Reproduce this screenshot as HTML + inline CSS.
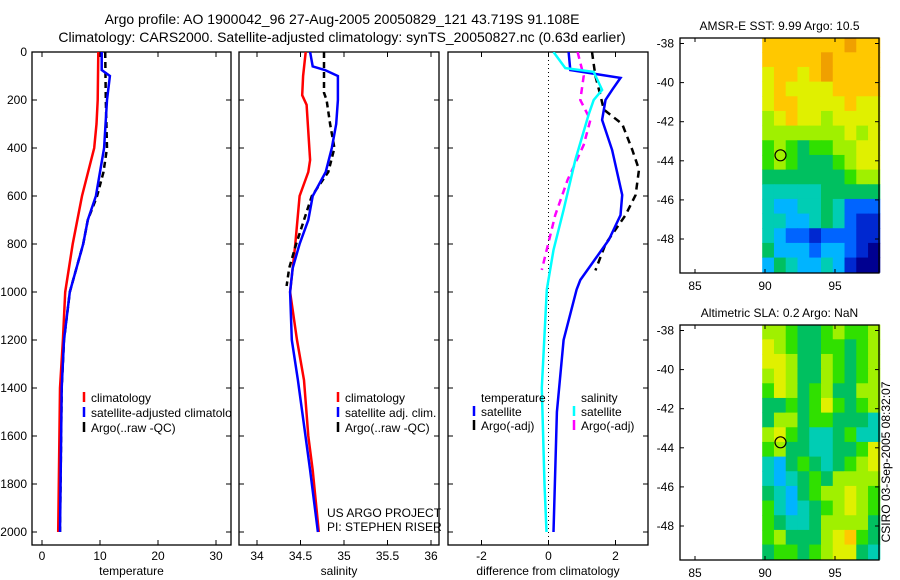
<!DOCTYPE html>
<html><head><meta charset="utf-8">
<style>
body{margin:0;background:#fff;}
svg{display:block;font-family:"Liberation Sans",sans-serif;}
</style></head>
<body>
<svg id="fig" width="900" height="580" viewBox="0 0 900 580" xmlns="http://www.w3.org/2000/svg">
<text x="342" y="24" font-size="14" text-anchor="middle">Argo profile: AO 1900042_96 27-Aug-2005 20050829_121 43.719S 91.108E</text>
<text x="342" y="42" font-size="14" text-anchor="middle">Climatology: CARS2000. Satellite-adjusted climatology: synTS_20050827.nc (0.63d earlier)</text>
<g id="plots"></g>
<text x="327" y="517" font-size="12">US ARGO PROJECT</text>
<text x="327" y="531" font-size="12">PI: STEPHEN RISER</text>
<text x="894" y="466" font-size="12" text-anchor="middle" transform="rotate(-90 890 466)">CSIRO 03-Sep-2005 08:32:07</text>
</svg>
<script>
// ---------- profile data ----------
const tClimDepth = [0,200,300,400,600,800,1000,1200,1400,2000];
const tClimVal   = [9.7,9.6,9.4,9.0,6.9,5.3,4.0,3.6,3.1,2.8];
const tSatDepth  = [0,75,100,200,400,500,600,700,800,1000,1200,1400,2000];
const tSatVal    = [10.3,10.3,11.7,11.2,10.7,10.0,9.3,7.9,7.1,4.8,3.8,3.4,3.1];
const tArgoDepth = [0,200,400,500,600,700,800,1000,1200,1400,2000];
const tArgoVal   = [10.9,11.0,11.2,10.6,9.5,7.9,7.1,4.8,3.8,3.4,3.1];

const sClimDepth = [0,100,180,220,450,500,600,800,1000,1200,1367,1600,1742,2000];
const sClimVal   = [34.56,34.53,34.52,34.57,34.61,34.59,34.49,34.44,34.38,34.46,34.54,34.59,34.64,34.71];
const sSatDepth  = [0,60,75,100,200,300,400,500,600,700,800,900,1000,1200,1367,1742,2000];
const sSatVal    = [34.61,34.64,34.78,34.93,34.93,34.91,34.86,34.79,34.64,34.59,34.49,34.41,34.38,34.40,34.47,34.61,34.70];
const sArgoDepth = [0,170,200,300,400,500,600,700,800,900,975];
const sArgoVal   = [34.77,34.77,34.80,34.84,34.89,34.82,34.63,34.54,34.45,34.37,34.34];

const dTSatDepth  = [0,75,108,158,200,283,408,596,680,783,950,990,1200,1500,2000];
const dTSatVal    = [0.6,0.65,2.15,1.9,1.7,1.6,1.9,2.2,2.15,1.8,0.95,0.84,0.45,0.25,0.15];
const dTArgoDepth = [0,100,180,240,300,408,490,596,680,800,910];
const dTArgoVal   = [1.3,1.4,1.55,1.65,2.2,2.5,2.7,2.6,2.3,1.7,1.4];
const dSSatDepth  = [0,67,83,158,200,260,450,658,825,990,1400,1800,2000];
const dSSatVal    = [0.15,0.5,1.35,1.6,1.35,1.2,0.8,0.45,0.15,-0.05,-0.2,-0.12,-0.06];
const dSArgoDepth = [0,100,200,283,387,533,680,908];
const dSArgoVal   = [0.87,1.05,0.95,1.25,1.05,0.57,0.2,-0.2];

const depthTicks = [0,200,400,600,800,1000,1200,1400,1600,1800,2000];
const tTicks = [0,10,20,30];
const sTicks = [34,34.5,35,35.5,36];
const dTicks = [-2,0,2];

// ---------- map data (colour levels 0..10) ----------
const sstGrid = [
[9,9,9,9,9,9,9,10,9,9],
[9,9,9,9,9,10,9,9,9,9],
[8,9,9,8,9,10,9,9,9,9],
[8,9,8,8,8,8,9,9,9,9],
[8,9,9,8,8,8,8,9,8,8],
[7,8,9,8,8,7,8,8,8,8],
[7,7,7,7,7,7,7,8,7,8],
[6,7,6,5,6,6,7,7,8,8],
[6,7,6,5,5,5,6,7,8,8],
[5,5,5,5,5,5,5,6,7,7],
[4,4,4,4,4,5,5,5,5,5],
[4,3,3,4,4,5,4,2,2,2],
[4,4,3,3,4,5,4,2,1,1],
[4,3,2,2,1,2,2,2,1,1],
[5,3,3,3,2,3,3,2,1,0],
[3,5,4,3,3,4,3,1,0,0]];
const slaGrid = [
[7,7,6,5,5,6,7,6,6,7],
[8,7,6,5,5,6,6,5,6,7],
[8,8,7,5,5,7,6,5,6,7],
[7,8,7,5,5,7,6,5,6,7],
[6,8,7,5,6,7,5,5,7,7],
[5,5,6,5,6,8,6,5,6,7],
[5,7,7,5,6,6,5,5,5,4],
[7,8,6,5,4,4,5,6,4,4],
[6,7,5,5,4,4,5,5,6,8],
[4,3,5,6,5,4,5,6,7,8],
[4,3,4,5,6,5,7,7,7,7],
[5,4,3,5,6,7,7,8,7,6],
[6,4,3,4,5,6,7,8,7,6],
[6,5,4,4,5,7,7,7,7,5],
[6,7,5,5,5,7,8,9,6,5],
[5,6,6,5,6,7,8,8,5,4]];
const palette = ['#000090','#0028d0','#0064ff','#00b4ff','#00cdb4','#00c060','#30e000','#a0f000','#e0f000','#ffc800','#f0a000'];
const latTicks = [-38,-40,-42,-44,-46,-48];
const lonTicks = [85,90,95];
const argoLon = 91.108, argoLat = -43.719;

// ---------- drawing ----------
const NS='http://www.w3.org/2000/svg';
const root=document.getElementById('plots');
function mk(tag,attrs,parent){const e=document.createElementNS(NS,tag);for(const k in attrs)e.setAttribute(k,attrs[k]);(parent||root).appendChild(e);return e;}
const Y0=52, PY=0.24, PBOT=545, PTOP=52;
const yD=d=>Y0+d*PY;

const panels=[
 {name:'temperature',x0:32,x1:231,v0:0,p0:42,scale:5.8,ticks:tTicks,label:'temperature',showY:true},
 {name:'salinity',x0:239,x1:439,v0:34,p0:257,scale:87,ticks:sTicks,label:'salinity'},
 {name:'difference',x0:448,x1:648,v0:0,p0:548.5,scale:33.5,ticks:dTicks,label:'difference from climatology'}];

function line(g,p,depths,vals,color,w,dash,name){
  const pts=depths.map((d,i)=>(p.p0+(vals[i]-p.v0)*p.scale).toFixed(1)+','+yD(d).toFixed(1)).join(' ');
  const pl=mk('polyline',{points:pts,fill:'none',stroke:color,'stroke-width':w},g);
  if(dash)pl.setAttribute('stroke-dasharray',dash);
  
  
}

panels.forEach((p,pi)=>{
  const g=mk('g',{});
  
  
  const clipId='clip'+pi;
  const cp=mk('clipPath',{id:clipId},g);mk('rect',{x:p.x0,y:PTOP,width:p.x1-p.x0,height:PBOT-PTOP},cp);
  const frame=mk('rect',{x:p.x0,y:PTOP,width:p.x1-p.x0,height:PBOT-PTOP,fill:'none',stroke:'#000','stroke-width':1.3},g);
  
  
  depthTicks.forEach(d=>{
    const y=yD(d);
    mk('line',{x1:p.x0,x2:p.x0+5,y1:y,y2:y,stroke:'#000'},g);
    mk('line',{x1:p.x1,x2:p.x1-5,y1:y,y2:y,stroke:'#000'},g);
    if(p.showY){const t=mk('text',{x:27,y:y+4,'font-size':12,'text-anchor':'end'},g);t.textContent=d;
      
      }
  });
  p.ticks.forEach(v=>{
    const x=p.p0+(v-p.v0)*p.scale;
    mk('line',{x1:x,x2:x,y1:PBOT,y2:PBOT-5,stroke:'#000'},g);
    mk('line',{x1:x,x2:x,y1:PTOP,y2:PTOP+5,stroke:'#000'},g);
    const t=mk('text',{x:x,y:560,'font-size':12,'text-anchor':'middle'},g);t.textContent=v;
    
    
  });
  const xl=mk('text',{x:(p.x0+p.x1)/2,y:575,'font-size':12,'text-anchor':'middle'},g);xl.textContent=p.label;
  
  
  const lg=mk('g',{'clip-path':'url(#'+clipId+')'},g);
  if(pi===0){
    line(lg,p,tArgoDepth,tArgoVal,'#000',2.5,'6,4','temperature-argo-line');
    line(lg,p,tClimDepth,tClimVal,'#f00',2.5,null,'temperature-climatology-line');
    line(lg,p,tSatDepth,tSatVal,'#00f',2.5,null,'temperature-satellite-line');
  } else if(pi===1){
    line(lg,p,sClimDepth,sClimVal,'#f00',2.5,null,'salinity-climatology-line');
    line(lg,p,sArgoDepth,sArgoVal,'#000',2.5,'6,4','salinity-argo-line');
    line(lg,p,sSatDepth,sSatVal,'#00f',2.5,null,'salinity-satellite-line');
  } else {
    const zl=mk('line',{x1:p.p0,x2:p.p0,y1:PTOP,y2:PBOT,stroke:'#000','stroke-dasharray':'1,3'},lg);
    
    
    line(lg,p,dTArgoDepth,dTArgoVal,'#000',2.5,'7,5','temperature-argo-diff-line');
    line(lg,p,dSArgoDepth,dSArgoVal,'#f0f',2.5,'7,5','salinity-argo-diff-line');
    line(lg,p,dTSatDepth,dTSatVal,'#00f',2.5,null,'temperature-satellite-diff-line');
    line(lg,p,dSSatDepth,dSSatVal,'#0ff',2.5,null,'salinity-satellite-diff-line');
  }
  // legend
  const leg=mk('g',{'clip-path':'url(#'+clipId+')'},g);
  
  
  function entry(x,y,color,txt){
    if(color){mk('line',{x1:x,x2:x,y1:y-10,y2:y,stroke:color,'stroke-width':2.5},leg);}
    const t=mk('text',{x:x+7,y:y,'font-size':12},leg);t.textContent=txt;
    
    
  }
  if(pi===0){entry(84,402,'#f00','climatology');entry(84,417,'#00f','satellite-adjusted climatology');entry(84,432,'#000','Argo(..raw -QC)');}
  if(pi===1){entry(338,402,'#f00','climatology');entry(338,417,'#00f','satellite adj. clim.');entry(338,432,'#000','Argo(..raw -QC)');}
  if(pi===2){entry(474,402,null,'temperature');entry(574,402,null,'salinity');
    entry(474,416,'#00f','satellite');entry(474,430,'#000','Argo(-adj)');
    entry(574,416,'#0ff','satellite');entry(574,430,'#f0f','Argo(-adj)');}
});

function drawMap(grid,box,title,name){
  const g=mk('g',{});
  
  
  const lonX=l=>box.lon90+(l-90)*box.pxLon;
  const latY=l=>box.lat38+(-38-l)*box.pxLat;
  const lat0=-37.7,lat1=-49.7,lon0=89.8,lon1=98.2;
  const nr=grid.length,nc=grid[0].length;
  const dLat=(lat0-lat1)/nr,dLon=(lon1-lon0)/nc;
  grid.forEach((row,r)=>row.forEach((v,c)=>{
    const x0=lonX(lon0+c*dLon),x1=lonX(lon0+(c+1)*dLon);
    const y0=latY(lat0-r*dLat),y1=latY(lat0-(r+1)*dLat);
    const cell=mk('rect',{x:x0,y:y0,width:x1-x0+0.5,height:y1-y0+0.5,fill:palette[Math.max(0,Math.min(10,v))]},g);
    
    
  }));
  const fr=mk('rect',{x:box.x0,y:box.y0,width:box.x1-box.x0,height:box.y1-box.y0,fill:'none',stroke:'#000','stroke-width':1.3},g);
  
  
  latTicks.forEach(l=>{const y=latY(l);
    mk('line',{x1:box.x0,x2:box.x0+4,y1:y,y2:y,stroke:'#000'},g);
    mk('line',{x1:box.x1,x2:box.x1-4,y1:y,y2:y,stroke:'#000'},g);
    const t=mk('text',{x:box.x0-6,y:y+4,'font-size':12,'text-anchor':'end'},g);t.textContent=l;
    
    });
  lonTicks.forEach(l=>{const x=lonX(l);
    mk('line',{x1:x,x2:x,y1:box.y1,y2:box.y1-4,stroke:'#000'},g);
    mk('line',{x1:x,x2:x,y1:box.y0,y2:box.y0+4,stroke:'#000'},g);
    const t=mk('text',{x:x,y:box.y1+17,'font-size':12,'text-anchor':'middle'},g);t.textContent=l;
    
    });
  const tt=mk('text',{x:(box.x0+box.x1)/2,y:box.y0-8,'font-size':12,'text-anchor':'middle'},g);tt.textContent=title;
  
  
  const c=mk('circle',{cx:lonX(argoLon),cy:latY(argoLat),r:5.5,fill:'none',stroke:'#000','stroke-width':1.2},g);
  
  
}
drawMap(sstGrid,{x0:680,x1:879,y0:38,y1:273,lon90:765,pxLon:14,lat38:43.5,pxLat:19.55},'AMSR-E SST: 9.99 Argo: 10.5','sst-map');
drawMap(slaGrid,{x0:680,x1:879,y0:325,y1:560,lon90:765,pxLon:14,lat38:330.5,pxLat:19.55},'Altimetric SLA: 0.2 Argo: NaN','sla-map');
</script>
</body></html>
